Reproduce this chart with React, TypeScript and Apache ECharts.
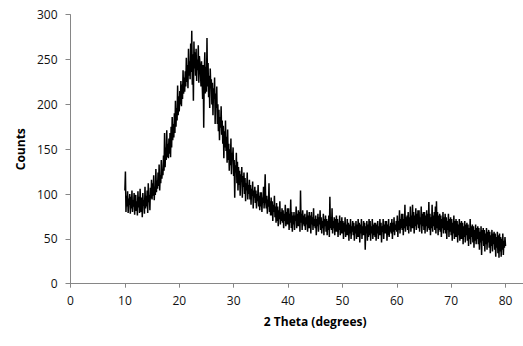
import React, { useEffect, useRef } from "react";
import * as echarts from "echarts";

// 2-theta grid of the scan (degrees): first angle and step
const thetaStart = 10;
const thetaStep = 0.1;

// Counts, one row per degree (10.0 .. 79.9), then 80.0
const counts: number[] = [
  104, 125, 80, 98, 86, 103, 79, 95, 88, 100,
  78, 97, 84, 104, 80, 93, 86, 101, 77, 95,
  99, 81, 92, 76, 103, 85, 97, 79, 106, 88,
  80, 96, 74, 101, 87, 93, 78, 108, 84, 98,
  86, 104, 79, 112, 91, 99, 82, 107, 95, 116,
  94, 112, 98, 121, 93, 108, 99, 128, 102, 115,
  106, 124, 109, 133, 104, 121, 112, 138, 117, 127,
  121, 143, 126, 168, 130, 152, 138, 171, 141, 156,
  140, 162, 145, 168, 141, 175, 152, 186, 160, 178,
  163, 190, 168, 204, 175, 196, 182, 221, 188, 209,
  192, 215, 200, 226, 198, 222, 206, 238, 212, 230,
  214, 237, 220, 252, 225, 244, 218, 262, 232, 248,
  228, 268, 236, 282, 222, 256, 204, 270, 240, 258,
  232, 262, 226, 250, 238, 266, 224, 254, 246, 236,
  220, 248, 228, 206, 244, 174, 236, 258, 212, 242,
  214, 274, 220, 246, 208, 232, 196, 240, 218, 228,
  200, 224, 188, 218, 206, 230, 178, 212, 196, 220,
  178, 200, 170, 194, 160, 186, 174, 198, 166, 182,
  156, 176, 140, 170, 152, 182, 148, 164, 135, 172,
  138, 156, 126, 150, 132, 162, 122, 146, 140, 152,
  120, 138, 96, 132, 124, 146, 112, 136, 104, 130,
  110, 126, 98, 122, 114, 130, 96, 120, 108, 124,
  100, 118, 92, 112, 104, 124, 94, 110, 100, 116,
  94, 110, 88, 106, 98, 114, 84, 104, 96, 108,
  90, 104, 84, 100, 92, 110, 86, 98, 82, 102,
  86, 102, 80, 96, 90, 108, 84, 99, 122, 92,
  84, 98, 78, 94, 86, 112, 80, 92, 76, 96,
  76, 92, 70, 88, 80, 98, 74, 86, 68, 90,
  70, 86, 64, 82, 72, 92, 66, 80, 70, 84,
  68, 82, 62, 78, 70, 88, 64, 80, 66, 84,
  66, 84, 60, 78, 68, 94, 62, 80, 58, 76,
  66, 80, 60, 76, 70, 86, 62, 78, 64, 82,
  64, 80, 58, 104, 68, 78, 60, 82, 66, 76,
  64, 78, 60, 74, 66, 82, 58, 76, 62, 80,
  62, 76, 56, 80, 66, 74, 60, 84, 64, 72,
  62, 76, 54, 72, 64, 78, 58, 74, 66, 82,
  60, 74, 56, 70, 62, 78, 54, 72, 64, 76,
  58, 72, 54, 70, 60, 76, 52, 97, 62, 74,
  60, 84, 56, 70, 62, 74, 54, 72, 58, 76,
  58, 72, 52, 68, 60, 76, 54, 70, 56, 74,
  56, 70, 50, 68, 58, 74, 52, 66, 54, 72,
  54, 68, 48, 66, 56, 72, 50, 64, 58, 70,
  54, 68, 48, 64, 56, 70, 50, 66, 52, 72,
  52, 68, 46, 66, 56, 72, 50, 64, 54, 70,
  54, 68, 38, 64, 56, 70, 48, 66, 52, 72,
  54, 70, 48, 64, 56, 72, 50, 66, 54, 68,
  52, 68, 48, 66, 56, 70, 50, 64, 54, 72,
  54, 68, 46, 64, 58, 72, 50, 66, 56, 70,
  56, 70, 48, 66, 54, 72, 52, 64, 58, 68,
  56, 72, 50, 68, 58, 74, 54, 66, 60, 70,
  58, 76, 52, 70, 60, 82, 56, 72, 62, 78,
  60, 78, 54, 72, 62, 88, 58, 74, 64, 76,
  60, 80, 56, 74, 64, 86, 58, 76, 62, 88,
  62, 80, 56, 76, 64, 84, 60, 78, 66, 82,
  62, 82, 58, 74, 66, 86, 56, 78, 64, 80,
  60, 80, 56, 76, 64, 82, 58, 78, 62, 91,
  60, 78, 54, 74, 62, 88, 58, 76, 64, 80,
  60, 86, 56, 92, 62, 80, 54, 76, 60, 78,
  58, 76, 52, 72, 62, 80, 56, 74, 60, 78,
  56, 74, 50, 70, 60, 78, 52, 72, 58, 74,
  54, 72, 48, 68, 56, 76, 50, 70, 52, 72,
  52, 70, 46, 66, 54, 72, 48, 68, 50, 70,
  50, 68, 44, 64, 52, 70, 46, 66, 54, 68,
  48, 66, 42, 62, 50, 72, 44, 64, 52, 66,
  46, 64, 40, 60, 48, 66, 44, 62, 50, 64,
  44, 62, 38, 58, 46, 64, 32, 60, 48, 62,
  42, 60, 36, 56, 44, 62, 38, 58, 46, 60,
  40, 58, 34, 54, 42, 60, 36, 56, 44, 58,
  38, 56, 30, 52, 40, 58, 34, 54, 29, 56,
  36, 52, 30, 50, 38, 56, 32, 48, 40, 52,
  42,
];

const xTicks = [0, 10, 20, 30, 40, 50, 60, 70, 80];
const yTicks = [0, 50, 100, 150, 200, 250, 300];
const xTitle = "2 Theta (degrees)";
const yTitle = "Counts";

export default function App() {
  const ref = useRef<HTMLDivElement>(null);
  useEffect(() => {
    if (!ref.current) return;
    const chart = echarts.init(ref.current, null, { renderer: "svg" });
    const data = counts.map((c, i) => [
      Math.round((thetaStart + i * thetaStep) * 10) / 10,
      c,
    ]);
    const font = "'Open Sans', 'Noto Sans', sans-serif";
    const axisColor = "#868686";
    chart.setOption({
      animation: false,
      grid: {
        left: 70.5,
        top: 14.7,
        width: 489.4,
        height: 269,
        containLabel: false,
        outerBoundsMode: "none",
      },
      xAxis: {
        type: "value",
        min: 0,
        max: 90,
        interval: 10,
        name: xTitle,
        nameLocation: "middle",
        nameGap: 32,
        nameTextStyle: { fontFamily: font, fontSize: 12, fontWeight: "bold", color: "#000" },
        axisLine: { show: true, lineStyle: { color: axisColor, width: 1 } },
        axisTick: { show: true, length: 4, customValues: xTicks, lineStyle: { color: axisColor } },
        axisLabel: { customValues: xTicks, margin: 11, fontFamily: font, fontSize: 12, color: "#111" },
        splitLine: { show: false },
      },
      yAxis: {
        type: "value",
        min: 0,
        max: 300,
        interval: 50,
        name: yTitle,
        nameLocation: "middle",
        nameGap: 39,
        nameRotate: 90,
        nameTextStyle: { fontFamily: font, fontSize: 12, fontWeight: "bold", color: "#000" },
        axisLine: { show: true, lineStyle: { color: axisColor, width: 1 } },
        axisTick: { show: true, length: 5, customValues: yTicks, lineStyle: { color: axisColor } },
        axisLabel: { customValues: yTicks, margin: 13, fontFamily: font, fontSize: 12, color: "#111" },
        splitLine: { show: false },
      },
      series: [
        {
          type: "line",
          data,
          showSymbol: false,
          symbol: "none",
          lineStyle: { color: "#000", width: 1.5 },
          silent: true,
        },
      ],
    });
    return () => chart.dispose();
  }, []);
  return (
    <div
      ref={ref}
      style={{ position: "absolute", left: 0, top: 0, width: 523, height: 346 }}
    />
  );
}
